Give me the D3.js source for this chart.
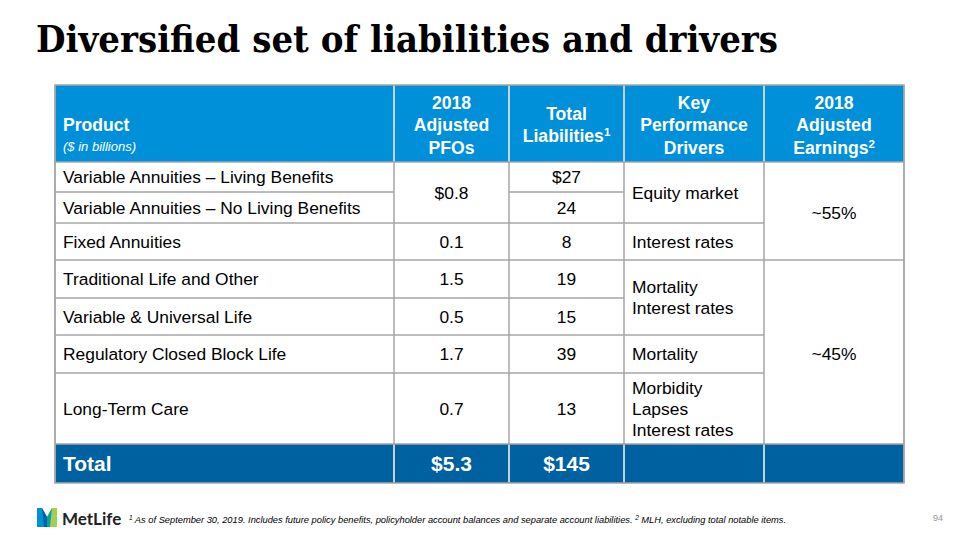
<!DOCTYPE html>
<html><head><meta charset="utf-8">
<script src="https://cdn.jsdelivr.net/npm/d3@7"></script>
<style>body{margin:0;background:#fff}svg{display:block}</style>
</head><body>
<svg id="c" width="960" height="540"></svg>
<script>
// ---- data ----
const title = "Diversified set of liabilities and drivers";
const headers = [["Product"], ["2018", "Adjusted", "PFOs"], ["Total", "Liabilities¹"], ["Key", "Performance", "Drivers"], ["2018", "Adjusted", "Earnings²"]];
const unitNote = "($ in billions)";
const products = ["Variable Annuities – Living Benefits", "Variable Annuities – No Living Benefits", "Fixed Annuities", "Traditional Life and Other", "Variable & Universal Life", "Regulatory Closed Block Life", "Long-Term Care"];
const pfos = [{v: "$0.8", from: 0, to: 1}, {v: "0.1", from: 2, to: 2}, {v: "1.5", from: 3, to: 3}, {v: "0.5", from: 4, to: 4}, {v: "1.7", from: 5, to: 5}, {v: "0.7", from: 6, to: 6}];
const liabilities = ["$27", "24", "8", "19", "15", "39", "13"];
const drivers = [{v: ["Equity market"], from: 0, to: 1}, {v: ["Interest rates"], from: 2, to: 2}, {v: ["Mortality", "Interest rates"], from: 3, to: 4}, {v: ["Mortality"], from: 5, to: 5}, {v: ["Morbidity", "Lapses", "Interest rates"], from: 6, to: 6}];
const earnings = [{v: "~55%", from: 0, to: 2}, {v: "~45%", from: 3, to: 6}];
const totals = ["Total", "$5.3", "$145", "", ""];
const footnote = ["1", " As of September 30, 2019. Includes future policy benefits, policyholder account balances and separate account liabilities. ", "2", " MLH, excluding total notable items."];
const pageNum = "94";

// ---- layout ----
const colEdges = [55, 394, 509, 624, 764, 904];
const headTop = 85, headBot = 162;
const rowEdges = [162, 192, 223, 260, 298, 335, 373, 444];
const totalBot = 483;
const blue = "#0090DA", darkBlue = "#0061A0", grid = "#A6A6A6";
const sans = "Liberation Sans, Arial, sans-serif";

const svg = d3.select("#c");
const x = d3.scaleOrdinal().domain(d3.range(6)).range(colEdges);
const y = d3.scaleOrdinal().domain(d3.range(rowEdges.length)).range(rowEdges);

svg.append("text").attr("x", 36).attr("y", 52)
  .attr("font-family", "DejaVu Serif, Georgia, serif").attr("font-weight", "bold")
  .attr("font-size", 37).attr("textLength", 742).attr("lengthAdjust", "spacingAndGlyphs")
  .attr("fill", "#000").text(title);

// header background
svg.append("rect").attr("x", colEdges[0]).attr("y", headTop).attr("width", colEdges[5] - colEdges[0]).attr("height", headBot - headTop).attr("fill", blue);
// total row background
svg.append("rect").attr("x", colEdges[0]).attr("y", rowEdges[7]).attr("width", colEdges[5] - colEdges[0]).attr("height", totalBot - rowEdges[7]).attr("fill", darkBlue);

// header texts
const hg = svg.append("g").attr("font-family", sans).attr("font-weight", "bold").attr("font-size", 17.6).attr("fill", "#fff");
headers.forEach((lines, i) => {
  const lh = 22.5;
  const cx = i === 0 ? x(0) + 8 : (x(i) + x(i + 1)) / 2;
  const mid = 131;
  lines.forEach((l, j) => {
    const t = hg.append("text").attr("x", cx).attr("y", mid + (j - (lines.length - 1) / 2) * lh - (lines.length === 2 ? 0 : 0) + (lines.length === 2 ? 0 : 0))
      .attr("text-anchor", i === 0 ? "start" : "middle");
    const m = l.match(/^(.*?)([¹²])$/);
    if (m) {
      t.append("tspan").text(m[1]);
      t.append("tspan").attr("font-size", 11.5).attr("dy", -6).text(m[2] === "¹" ? "1" : "2");
    } else t.text(l);
  });
});
hg.append("text").attr("x", x(0) + 8).attr("y", 151).attr("font-weight", "normal").attr("font-style", "italic").attr("font-size", 13).text(unitNote);

// body text
const bg = svg.append("g").attr("font-family", sans).attr("font-size", 17.4).attr("fill", "#000");
const midY = (a, b) => (y(a) + y(b + 1)) / 2;
products.forEach((p, i) => bg.append("text").attr("x", x(0) + 8).attr("y", midY(i, i) + 6).text(p));
pfos.forEach(d => bg.append("text").attr("x", (x(1) + x(2)) / 2).attr("y", midY(d.from, d.to) + 6).attr("text-anchor", "middle").text(d.v));
liabilities.forEach((d, i) => bg.append("text").attr("x", (x(2) + x(3)) / 2).attr("y", midY(i, i) + 6).attr("text-anchor", "middle").text(d));
drivers.forEach(d => d.v.forEach((l, j) => bg.append("text").attr("x", x(3) + 8)
  .attr("y", midY(d.from, d.to) + 6 + (j - (d.v.length - 1) / 2) * 21).text(l)));
earnings.forEach(d => bg.append("text").attr("x", (x(4) + x(5)) / 2).attr("y", midY(d.from, d.to) + 8).attr("text-anchor", "middle").text(d.v));

// totals
const tg = svg.append("g").attr("font-family", sans).attr("font-weight", "bold").attr("font-size", 21).attr("fill", "#fff");
totals.forEach((t, i) => tg.append("text").attr("x", i === 0 ? x(0) + 8 : (x(i) + x(i + 1)) / 2)
  .attr("y", (rowEdges[7] + totalBot) / 2 + 7.5).attr("text-anchor", i === 0 ? "start" : "middle").text(t));

// grid lines
const lg = svg.append("g").attr("stroke", grid).attr("stroke-width", 1.5);
function hline(x1, x2, yy) { lg.append("line").attr("x1", x1).attr("x2", x2).attr("y1", yy).attr("y2", yy); }
function spansBreaks(spans) { return spans.map(s => s.to + 1); }
const colBreaks = [
  d3.range(1, 8),
  spansBreaks(pfos),
  d3.range(1, 8),
  spansBreaks(drivers),
  spansBreaks(earnings)
];
colBreaks.forEach((br, c) => br.forEach(r => { if (r < 7) hline(x(c), x(c + 1), y(r)); }));
hline(x(0), x(5), headBot);
hline(x(0), x(5), rowEdges[7]);
colEdges.forEach(cx => {
  lg.append("line").attr("x1", cx).attr("x2", cx).attr("y1", headTop).attr("y2", totalBot);
});
[1, 2, 3, 4].forEach(i => {
  svg.append("line").attr("x1", x(i)).attr("x2", x(i)).attr("y1", headTop + 1).attr("y2", headBot - 1).attr("stroke", "#d8e6ef").attr("stroke-width", 1.5);
  svg.append("line").attr("x1", x(i)).attr("x2", x(i)).attr("y1", rowEdges[7] + 1).attr("y2", totalBot - 1).attr("stroke", "#d8e6ef").attr("stroke-width", 1.5);
});
svg.append("rect").attr("x", colEdges[0]).attr("y", headTop).attr("width", colEdges[5] - colEdges[0]).attr("height", totalBot - headTop)
  .attr("fill", "none").attr("stroke", grid).attr("stroke-width", 1.5);

// logo
const logo = svg.append("g");
logo.append("path").attr("d", "M37,508 L42,508 L47,517 L47,527 L37,527 Z").attr("fill", "#0090DA");
logo.append("path").attr("d", "M57,508 L52,508 L47,517 L47,527 L57,527 Z").attr("fill", "#A4CE4E");
logo.append("path").attr("d", "M42,508 L47,517 L47,527 L44,527 Z").attr("fill", "#0061A0");
logo.append("path").attr("d", "M52,508 L47,517 L47,527 L50,527 Z").attr("fill", "#00A5A0");
svg.append("text").attr("x", 62).attr("y", 525).attr("font-family", "Lato, Noto Sans, sans-serif").attr("font-weight", "bold")
  .attr("font-size", 17).attr("fill", "#222").text("MetLife");

// footnote
const fn = svg.append("text").attr("x", 129).attr("y", 523).attr("font-family", sans).attr("font-style", "italic").attr("font-size", 9.3).attr("fill", "#000");
footnote.forEach((s, i) => {
  const t = fn.append("tspan").text(s);
  if (i % 2 === 0) t.attr("font-size", 6.5).attr("dy", -3);
  else t.attr("dy", 3);
});
svg.append("text").attr("x", 933).attr("y", 521).attr("font-family", sans).attr("font-size", 9).attr("fill", "#999").text(pageNum);
</script>
</body></html>
